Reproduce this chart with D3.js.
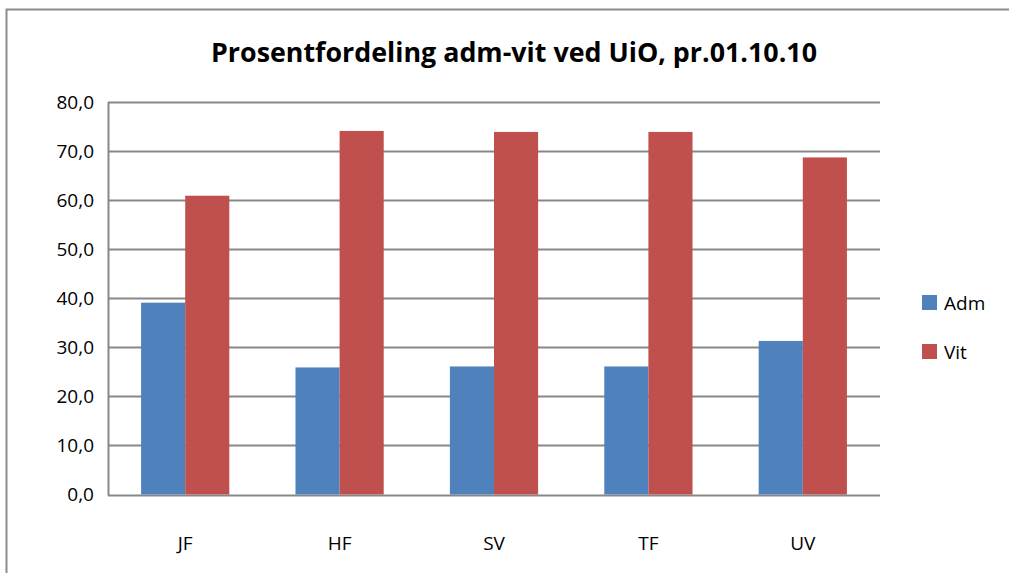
<!DOCTYPE html>
<html>
<head>
<meta charset="utf-8">
<script src="https://cdn.jsdelivr.net/npm/d3@7"></script>
<style>
html,body{margin:0;padding:0;background:#fff;}
svg{display:block;}
text{font-family:"Open Sans","Liberation Sans",sans-serif;fill:#000;}
</style>
</head>
<body>
<script>
const categories = ["JF", "HF", "SV", "TF", "UV"];
const seriesNames = ["Adm", "Vit"];
const admValues = [39.1, 25.9, 26.1, 26.1, 31.3];
const vitValues = [60.9, 74.1, 73.9, 73.9, 68.7];
const yTicks = [0, 10, 20, 30, 40, 50, 60, 70, 80];
const colors = ["#4F81BD", "#C0504D"];
const title = "Prosentfordeling adm-vit ved UiO, pr.01.10.10";

(function () {
const W = 1009, H = 573;
const svg = d3.select("body").append("svg").attr("width", W).attr("height", H);

svg.append("rect").attr("x", 6.5).attr("y", 9.5).attr("width", 1010).attr("height", 600)
  .attr("fill", "#fff").attr("stroke", "#8c8c8c").attr("stroke-width", 2);

const pL = 108, pR = 880, pT = 102, pB = 494.5;

const y = d3.scaleLinear().domain([0, 80]).range([pB, pT]);
const x0 = d3.scaleBand().domain(categories).range([pL, pR]).paddingInner(0).paddingOuter(0);
const x1 = d3.scaleBand().domain(seriesNames).range([0, x0.bandwidth()]).paddingInner(0).paddingOuter(0.75);

const g = svg.append("g");
g.selectAll("line.grid").data(yTicks).enter().append("line")
  .attr("x1", pL).attr("x2", pR)
  .attr("y1", d => Math.round(y(d)) + 0.5).attr("y2", d => Math.round(y(d)) + 0.5)
  .attr("stroke", "#888").attr("stroke-width", 2);

g.append("line").attr("x1", pL + 0.5).attr("x2", pL + 0.5).attr("y1", pT).attr("y2", pB + 1)
  .attr("stroke", "#888").attr("stroke-width", 2);

const fmt = d => d3.format(".1f")(d).replace(".", ",");
g.selectAll("text.ytick").data(yTicks).enter().append("text")
  .attr("x", 94).attr("y", d => y(d)).attr("dy", "0.36em")
  .attr("text-anchor", "end").style("font-size", "19px").text(fmt);

const data = categories.map((c, i) => ({cat: c, vals: [
  {s: "Adm", v: admValues[i]}, {s: "Vit", v: vitValues[i]}]}));
const grp = svg.selectAll("g.cat").data(data).enter().append("g")
  .attr("transform", d => `translate(${x0(d.cat)},0)`);
grp.selectAll("rect").data(d => d.vals).enter().append("rect")
  .attr("x", d => x1(d.s)).attr("width", x1.bandwidth())
  .attr("y", d => y(d.v)).attr("height", d => pB - y(d.v))
  .attr("fill", (d, i) => colors[i]);

svg.selectAll("text.xl").data(categories).enter().append("text")
  .attr("x", d => x0(d) + x0.bandwidth() / 2).attr("y", 550)
  .attr("text-anchor", "middle").style("font-size", "19px").text(d => d);

svg.append("text").attr("x", 514).attr("y", 62).attr("text-anchor", "middle")
  .style("font-size", "26px").style("font-weight", "bold")
  .attr("textLength", 606).attr("lengthAdjust", "spacingAndGlyphs").text(title);

const leg = svg.selectAll("g.leg").data(seriesNames).enter().append("g")
  .attr("transform", (d, i) => `translate(922,${295 + i * 49})`);
leg.append("rect").attr("width", 15).attr("height", 15).attr("fill", (d, i) => colors[i]);
leg.append("text").attr("x", 22).attr("y", 15).style("font-size", "19px").text(d => d);
})();
</script>
</body>
</html>
